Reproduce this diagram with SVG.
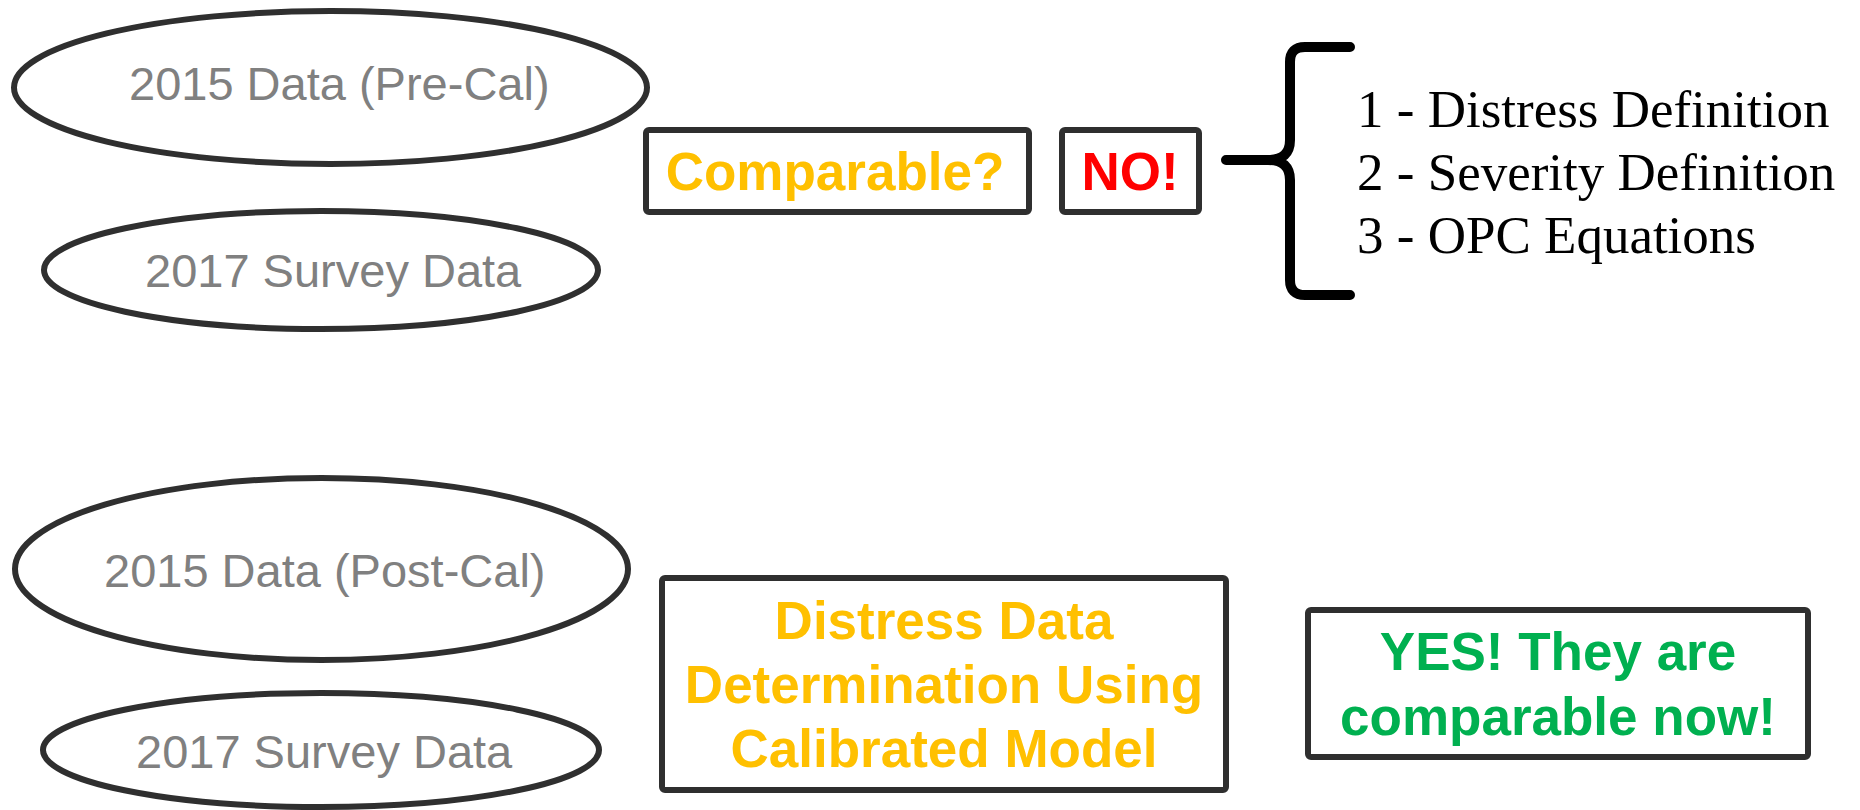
<svg xmlns="http://www.w3.org/2000/svg" width="1860" height="810" viewBox="0 0 1860 810">
  <style>
    .oval { fill: #ffffff; stroke: #2f2f2f; stroke-width: 6; }
    .box { fill: #ffffff; stroke: #2f2f2f; stroke-width: 6; }
    .lbl { font-family: "Liberation Sans", Arial, sans-serif; font-size: 47px; fill: #808080; }
    .bold { font-family: "Liberation Sans", Arial, sans-serif; font-size: 53px; font-weight: bold; text-anchor: middle; }
    .serif { font-family: "Liberation Serif", "Times New Roman", serif; font-size: 53px; fill: #000000; }
    .brace { fill: none; stroke: #000000; stroke-width: 10; stroke-linecap: round; stroke-linejoin: round; }
  </style>
  <rect width="1860" height="810" fill="#ffffff"/>

  <!-- upper half: data sets before calibration -->
  <g id="data2015-pre">
    <ellipse class="oval" cx="330.5" cy="87.5" rx="316.5" ry="76.5"/>
    <text class="lbl" x="129" y="100">2015 Data (Pre-Cal)</text>
  </g>
  <g id="survey2017-a">
    <ellipse class="oval" cx="321" cy="270" rx="277" ry="59"/>
    <text class="lbl" x="145" y="287">2017 Survey Data</text>
  </g>
  <g id="comparable">
    <rect class="box" x="646" y="130" width="383" height="82" rx="3"/>
    <text class="bold" x="835" y="190" fill="#FFC000">Comparable?</text>
  </g>
  <g id="no">
    <rect class="box" x="1062" y="130" width="137" height="82" rx="3"/>
    <text class="bold" x="1130" y="190" fill="#FF0000">NO!</text>
  </g>
  <g id="reasons">
    <path class="brace" d="M1350 47 H1305 Q1290 47 1290 62 V140 Q1290 160 1268 160 H1226 M1226 160 H1268 Q1290 160 1290 180 V280 Q1290 295 1305 295 H1350"/>
    <text class="serif" x="1357" y="127">1 - Distress Definition</text>
    <text class="serif" x="1357" y="190">2 - Severity Definition</text>
    <text class="serif" x="1357" y="253">3 - OPC Equations</text>
  </g>

  <!-- lower half: data sets after calibration -->
  <g id="data2015-post">
    <ellipse class="oval" cx="321.5" cy="569" rx="306.5" ry="91"/>
    <text class="lbl" x="104" y="587">2015 Data (Post-Cal)</text>
  </g>
  <g id="survey2017-b">
    <ellipse class="oval" cx="321" cy="750" rx="278" ry="57"/>
    <text class="lbl" x="136" y="768">2017 Survey Data</text>
  </g>
  <g id="determination">
    <rect class="box" x="662" y="578" width="564" height="212" rx="3"/>
    <text class="bold" x="944" y="639" fill="#FFC000">Distress Data</text>
    <text class="bold" x="944" y="703" fill="#FFC000">Determination Using</text>
    <text class="bold" x="944" y="767" fill="#FFC000">Calibrated Model</text>
  </g>
  <g id="yes">
    <rect class="box" x="1308" y="610" width="500" height="147" rx="3"/>
    <text class="bold" x="1558" y="670" fill="#00B050">YES! They are</text>
    <text class="bold" x="1558" y="735" fill="#00B050">comparable now!</text>
  </g>

  <!-- no connectors are drawn between the shapes -->
  <g id="connectors"/>
</svg>
